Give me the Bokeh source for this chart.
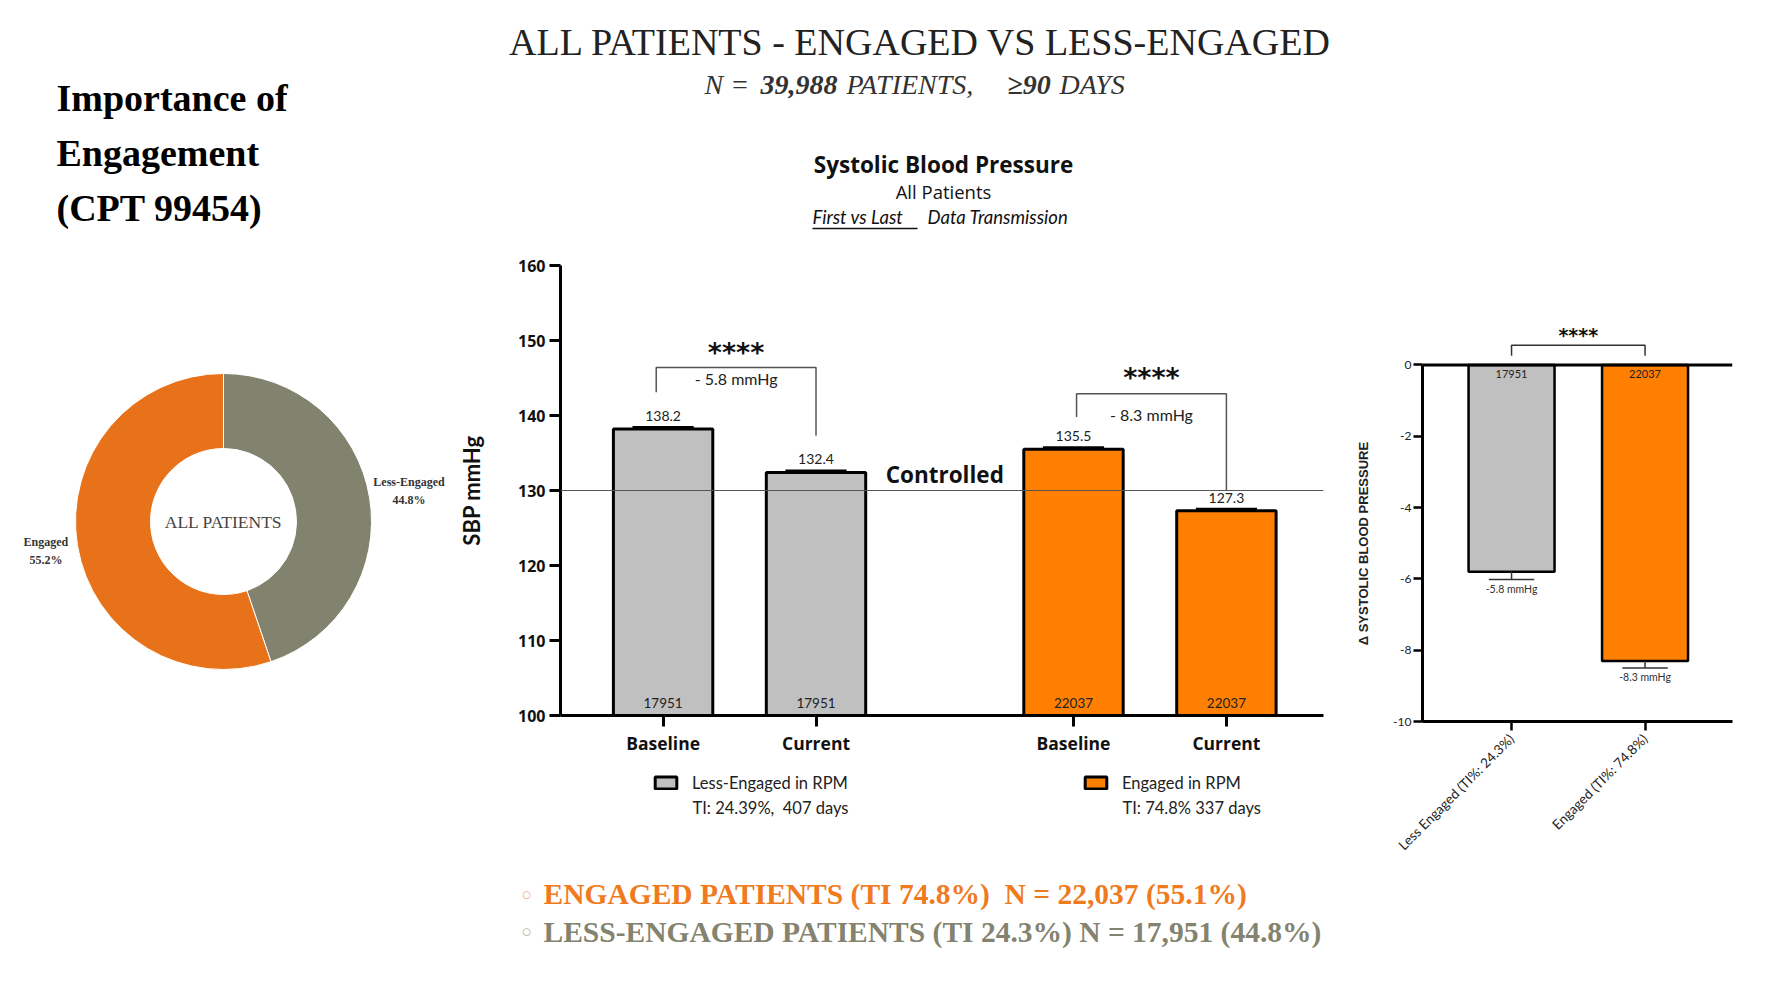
import math
from bokeh.plotting import figure
from bokeh.layouts import row, column
from bokeh.models import (Range1d, FixedTicker, Span, Label, Legend, LegendItem,
                          PrintfTickFormatter)
from bokeh.embed import file_html
from bokeh.resources import INLINE
from bokeh.core.properties import value

# ---------------- data ----------------
page_title = "ALL PATIENTS - ENGAGED VS LESS-ENGAGED"
subtitle_parts = ["N = ", "39,988", "PATIENTS,", "\u226590", "DAYS"]
heading_lines = ["Importance of", "Engagement", "(CPT 99454)"]

donut_labels = ["Less-Engaged", "Engaged"]
donut_pct = [44.8, 55.2]
donut_center_text = "ALL PATIENTS"

chart_title = "Systolic Blood Pressure"
chart_subtitle = "All Patients"
chart_subtitle2 = ["First  vs Last", "Data Transmission"]
phases = ["Baseline", "Current"]
groups = ["Less-Engaged in RPM", "Engaged in RPM"]
group_notes = ["TI: 24.39%,\u00a0 407 days", "TI: 74.8% 337 days"]
sbp_less = [138.2, 132.4]
sbp_engaged = [135.5, 127.3]
sbp_sem = [0.2, 0.2]
n_less = 17951
n_engaged = 22037
sbp_change_text = ["- 5.8 mmHg", "- 8.3 mmHg"]
significance = "****"
controlled_sbp = 130
controlled_text = "Controlled"
y_ticks_sbp = [100, 110, 120, 130, 140, 150, 160]

delta_categories = ["Less Engaged (TI%: 24.3%)", "Engaged (TI%: 74.8%)"]
delta_sbp = [-5.8, -8.3]
delta_sem = [0.22, 0.2]
delta_n = [17951, 22037]
delta_axis_label = "\u0394 SYSTOLIC BLOOD PRESSURE"
y_ticks_delta = [-10, -8, -6, -4, -2, 0]

summary_lines = ["ENGAGED PATIENTS (TI 74.8%)\u00a0 N = 22,037 (55.1%)",
                 "LESS-ENGAGED PATIENTS (TI 24.3%) N = 17,951 (44.8%)"]

# ---------------- styles ----------------
ORANGE = "#FF7F00"
GREY = "#C0C0C0"
DONUT_COLORS = ["#82836F", "#E8721A"]
SERIF = "Liberation Serif"
SANS = "Lato"
SANS_B = "Open Sans"


def lab(p, x, y, text, size, font=SANS, style="normal", color="#222222",
        align="left", baseline="middle"):
    p.add_layout(Label(x=x, y=y, text=text, text_font=font, text_font_size=f"{size}px",
                       text_font_style=style, text_color=color,
                       text_align=align, text_baseline=baseline))


def blank(width, height, xr, yr, **kw):
    p = figure(width=width, height=height, x_range=xr, y_range=yr, title=None,
               output_backend="svg", toolbar_location=None, x_axis_location=None,
               y_axis_location=None, outline_line_color=None, **kw)
    p.grid.visible = False
    return p


# ---------------- top strip (page coordinates) ----------------
top = blank(1345, 240, Range1d(0, 1345), Range1d(240, 0), min_border=0)
lab(top, 920, 41, page_title, 38, font=SERIF, color="#222222", align="center")
sub_x = [704, 760, 846, 1007, 1059]
sub_style = ["italic", "bold italic", "italic", "bold italic", "italic"]
for t, x, st in zip(subtitle_parts, sub_x, sub_style):
    lab(top, x, 84, t, 28, font=SERIF, style=st, color="#333333")
for i, line in enumerate(heading_lines):
    lab(top, 56, 97 + 55 * i, line, 38, font=SERIF, style="bold", color="#000000")
lab(top, 943, 164, chart_title, 22.5, font=SANS_B, style="bold", color="#111111",
    align="center")
lab(top, 943, 191, chart_subtitle, 18.5, font=SANS_B, color="#111111", align="center")
lab(top, 812, 216, chart_subtitle2[0], 18.5, style="italic", color="#111111")
lab(top, 927, 216, chart_subtitle2[1], 18.5, style="italic", color="#111111")
top.line(x=[812, 917], y=[228, 228], line_color="#111111", line_width=1.5)

# ---------------- donut ----------------
pa = blank(455, 520, Range1d(-223, 232), Range1d(-194, 256),
           min_border_left=0, min_border_right=0, min_border_top=25, min_border_bottom=45)
starts, ends, mids = [], [], []
a = 90.0
for pct in donut_pct:
    e = a - pct * 3.6
    starts.append(math.radians(a))
    ends.append(math.radians(e))
    mids.append(math.radians((a + e) / 2))
    a = e
pa.annular_wedge(x=0, y=0, inner_radius=73, outer_radius=148, start_angle=starts,
                 end_angle=ends, direction="clock", fill_color=DONUT_COLORS,
                 line_color="white", line_width=1)
r_lab = [188, 180]
pa.text(x=[r * math.cos(m) for r, m in zip(r_lab, mids)],
        y=[r * math.sin(m) for r, m in zip(r_lab, mids)],
        text=[f"{l}\n{v}%" for l, v in zip(donut_labels, donut_pct)],
        text_align="center", text_baseline="middle", text_font=value(SERIF),
        text_font_style="bold", text_font_size="12px", text_color="#333333",
        text_line_height=1.3)
pa.text(x=[0], y=[0], text=[donut_center_text], text_align="center", text_baseline="middle",
        text_font=value(SERIF), text_font_size="17.5px", text_color="#444444")

# ---------------- SBP bar chart ----------------
group_gap = 2.684
bar_x = [g * group_gap + i for g in range(2) for i in range(2)]
bar_vals = sbp_less + sbp_engaged
pb = figure(width=890, height=520, x_range=Range1d(-0.671, 4.319), y_range=Range1d(100, 160),
            title=None, output_backend="svg", toolbar_location=None, outline_line_color=None,
            min_border_left=102, min_border_right=22, min_border_top=25, min_border_bottom=45)
pb.grid.visible = False

r_less = pb.vbar(x=bar_x[:2], bottom=100, top=sbp_less, width=0.65, fill_color=GREY,
                 line_color="black", line_width=3)
r_eng = pb.vbar(x=bar_x[2:], bottom=100, top=sbp_engaged, width=0.65, fill_color=ORANGE,
                line_color="black", line_width=3)
sems = sbp_sem + sbp_sem
pb.segment(x0=[x - 0.2 for x in bar_x], x1=[x + 0.2 for x in bar_x],
           y0=[v + s for v, s in zip(bar_vals, sems)], y1=[v + s for v, s in zip(bar_vals, sems)],
           line_color="black", line_width=3)
pb.text(x=bar_x, y=[v + 1.75 for v in bar_vals], text=[f"{v:.1f}" for v in bar_vals],
        text_align="center", text_baseline="middle", text_font=value(SANS),
        text_font_size="14px", text_color="#222222")
pb.text(x=bar_x, y=[101.7] * 4, text=[str(n_less)] * 2 + [str(n_engaged)] * 2,
        text_align="center", text_baseline="middle", text_font=value(SANS),
        text_font_size="13.5px", text_color="#222222")

pb.add_layout(Span(location=controlled_sbp, dimension="width", line_color="#555555",
                   line_width=1.2))
pb.text(x=[(bar_x[1] + bar_x[2]) / 2], y=[132.1], text=[controlled_text], text_align="center",
        text_baseline="middle", text_font=value(SANS_B), text_font_style="bold",
        text_font_size="22.5px", text_color="#111111")

br_left_dx = [-0.045, 0.02]
br_top = [146.4, 142.9]
br_left_bot = [143.1, 139.8]
br_right_bot = [137.3, 130.0]
star_dy = [2.0, 2.2]
diff_dy = [-1.5, -2.8]
for g in range(2):
    xl = bar_x[2 * g] + br_left_dx[g]
    xr = bar_x[2 * g + 1]
    pb.line(x=[xl, xl, xr, xr], y=[br_left_bot[g], br_top[g], br_top[g], br_right_bot[g]],
            line_color="#555555", line_width=1.5)
    xm = (xl + xr) / 2
    pb.text(x=[xm], y=[br_top[g] + star_dy[g]], text=[significance], text_align="center",
            text_baseline="middle", text_font=value("DejaVu Sans"), text_font_style="bold",
            text_font_size="27px", text_color="#111111")
    pb.text(x=[xm], y=[br_top[g] + diff_dy[g]], text=[sbp_change_text[g]], text_align="center",
            text_baseline="middle", text_font=value(SANS), text_font_size="16px",
            text_color="#222222")

pb.xaxis.ticker = FixedTicker(ticks=bar_x)
pb.xaxis.major_label_overrides = {x: ph for x, ph in zip(bar_x, phases * 2)}
pb.yaxis.ticker = FixedTicker(ticks=y_ticks_sbp)
pb.yaxis.axis_label = "SBP mmHg"
pb.yaxis.axis_label_standoff = 30
pb.yaxis.axis_label_text_font = SANS
pb.yaxis.axis_label_text_font_style = "bold"
pb.yaxis.axis_label_text_font_size = "22px"
pb.yaxis.axis_label_text_color = "#111111"
for ax in (pb.xaxis[0], pb.yaxis[0]):
    ax.axis_line_width = 3
    ax.axis_line_color = "black"
    ax.major_tick_line_width = 3
    ax.major_tick_line_color = "black"
    ax.major_tick_in = 0
    ax.major_tick_out = 11
    ax.minor_tick_line_color = None
    ax.major_label_text_font = SANS_B
    ax.major_label_text_font_style = "bold"
    ax.major_label_text_color = "#111111"
pb.yaxis.major_label_text_font_size = "16px"
pb.yaxis.major_label_standoff = 4
pb.xaxis.major_label_text_font_size = "17.5px"
pb.xaxis.major_label_standoff = 4

# ---------------- bottom strip: legend + summary ----------------
bot = blank(1345, 220, Range1d(0, 1345), Range1d(980, 760), min_border=0)
legend_fills = [GREY, ORANGE]
legend_x = [652, 1082]
for name, note, fc, lx in zip(groups, group_notes, legend_fills, legend_x):
    # swatch-only renderer (no drawable geometry) that supplies the legend glyph style
    rr = bot.vbar(x=[float("nan")], top=[float("nan")], bottom=[float("nan")], width=1,
                  fill_color=fc, line_color="black", line_width=3)
    leg = Legend(items=[LegendItem(label=name, renderers=[rr])], location=(lx, 187.5),
                 padding=0, margin=0, spacing=0, border_line_color=None,
                 background_fill_alpha=0, glyph_width=27, glyph_height=15,
                 label_standoff=13, label_text_font=SANS, label_text_font_size="16.5px",
                 label_text_color="#222222", label_height=15)
    bot.add_layout(leg, "center")
    lab(bot, lx + 40, 807, note, 16.5)
sum_colors = ["#F07B1F", "#83836F"]
bullet_colors = ["#F4B48A", "#B9B9AE"]
for i, (t, c, bc) in enumerate(zip(summary_lines, sum_colors, bullet_colors)):
    lab(bot, 526, 895 + 37.5 * i, "\u25e6", 26, font="DejaVu Sans", color=bc, align="center")
    lab(bot, 543, 893 + 38 * i, t, 29.5, font=SERIF, style="bold", color=c)

# ---------------- right: change chart ----------------
dx = [1, 2]
pc = figure(width=435, height=980, x_range=Range1d(0.333, 2.655), y_range=Range1d(-10, 1.5),
            title=None, output_backend="svg", toolbar_location=None, outline_line_color=None,
            min_border_left=77, min_border_right=48, min_border_top=311, min_border_bottom=259)
pc.grid.visible = False
pc.vbar(x=dx, top=0, bottom=delta_sbp, width=0.644, fill_color=[GREY, ORANGE],
        line_color="black", line_width=2.5)
pc.add_layout(Span(location=0, dimension="width", line_color="black", line_width=3))
low = [v - s for v, s in zip(delta_sbp, delta_sem)]
pc.segment(x0=dx, x1=dx, y0=delta_sbp, y1=low, line_color="#333333", line_width=1.5)
pc.segment(x0=[x - 0.17 for x in dx], x1=[x + 0.17 for x in dx], y0=low, y1=low,
           line_color="#333333", line_width=1.5)
pc.text(x=dx, y=[-0.24] * 2, text=[str(n) for n in delta_n], text_align="center",
        text_baseline="middle", text_font=value(SANS), text_font_size="11px",
        text_color="#222222")
pc.text(x=dx, y=[l - 0.25 for l in low], text=[f"{v} mmHg" for v in delta_sbp],
        text_align="center", text_baseline="middle", text_font=value(SANS),
        text_font_size="10.5px", text_color="#333333")
pc.line(x=[dx[0], dx[0], dx[1], dx[1]], y=[0.26, 0.55, 0.55, 0.26], line_color="#333333",
        line_width=1.5)
pc.text(x=[(dx[0] + dx[1]) / 2], y=[0.85], text=[significance], text_align="center",
        text_baseline="middle", text_font=value("DejaVu Sans"), text_font_style="bold",
        text_font_size="19px", text_color="#111111")

pc.yaxis.bounds = (-10, 0)
pc.yaxis.ticker = FixedTicker(ticks=y_ticks_delta)
pc.yaxis.formatter = PrintfTickFormatter(format="%d")
# the axis label is centred on the frame; trailing no-break spaces move the visible
# text down so that it sits centred on the -10..0 axis line as in the reference
pc.yaxis.axis_label = delta_axis_label + "\u00a0" * 15
pc.yaxis.axis_label_standoff = 19
pc.yaxis.axis_label_text_font = "Liberation Sans"
pc.yaxis.axis_label_text_font_style = "bold"
pc.yaxis.axis_label_text_font_size = "13px"
pc.yaxis.axis_label_text_color = "#222222"
pc.xaxis.ticker = FixedTicker(ticks=dx)
pc.xaxis.major_label_overrides = {x: c for x, c in zip(dx, delta_categories)}
pc.xaxis.major_label_orientation = math.pi / 4
for ax in (pc.xaxis[0], pc.yaxis[0]):
    ax.axis_line_width = 3
    ax.axis_line_color = "black"
    ax.major_tick_line_width = 2.5
    ax.major_tick_line_color = "black"
    ax.major_tick_in = 0
    ax.major_tick_out = 9
    ax.minor_tick_line_color = None
    ax.major_label_text_font = SANS
    ax.major_label_text_color = "#222222"
pc.yaxis.major_label_text_font_size = "12px"
pc.xaxis.major_label_text_font_size = "13.5px"
pc.yaxis.major_label_standoff = 2
pc.xaxis.major_label_standoff = 6

layout = row(column(top, row(pa, pb), bot), pc)
open("out.html", "w").write(file_html(layout, INLINE))
